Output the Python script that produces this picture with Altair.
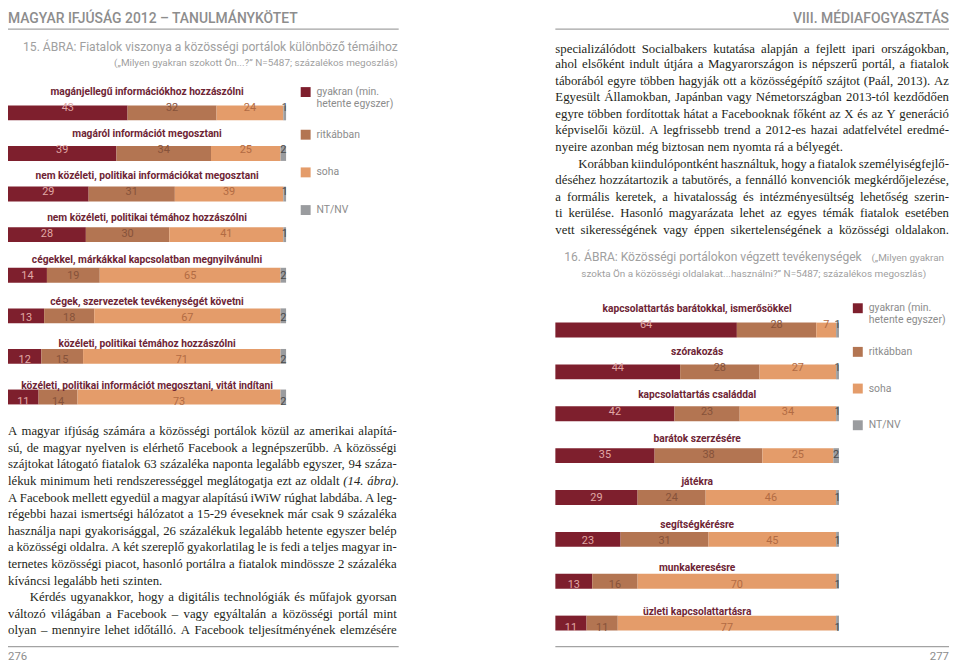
import unicodedata
import numpy as np
import altair as alt
import pandas as pd

# ---------------- data ----------------
segments = ["gyakran", "ritkábban", "soha", "NT/NV"]
legend_labels = [["gyakran (min.", "hetente egyszer)"], ["ritkábban"], ["soha"], ["NT/NV"]]

fig15_topics = [
    "magánjellegű információkhoz hozzászólni",
    "magáról információt megosztani",
    "nem közéleti, politikai információkat megosztani",
    "nem közéleti, politikai témához hozzászólni",
    "cégekkel, márkákkal kapcsolatban megnyilvánulni",
    "cégek, szervezetek tevékenységét követni",
    "közéleti, politikai témához hozzászólni",
    "közéleti, politikai információt megosztani, vitát indítani",
]
fig15_gyakran = [43, 39, 29, 28, 14, 13, 12, 11]
fig15_ritkabban = [32, 34, 31, 30, 19, 18, 15, 14]
fig15_soha = [24, 25, 39, 41, 65, 67, 71, 73]
fig15_ntnv = [1, 2, 1, 1, 2, 2, 2, 2]

fig16_topics = [
    "kapcsolattartás barátokkal, ismerősökkel",
    "szórakozás",
    "kapcsolattartás családdal",
    "barátok szerzésére",
    "játékra",
    "segítségkérésre",
    "munkakeresésre",
    "üzleti kapcsolattartásra",
]
fig16_gyakran = [64, 44, 42, 35, 29, 23, 13, 11]
fig16_ritkabban = [28, 28, 23, 38, 24, 31, 16, 11]
fig16_soha = [7, 27, 34, 25, 46, 45, 70, 77]
fig16_ntnv = [1, 1, 1, 2, 1, 1, 1, 1]

header_left = "MAGYAR IFJÚSÁG 2012 – TANULMÁNYKÖTET"
header_right = "VIII. MÉDIAFOGYASZTÁS"
fig15_title = "15. ÁBRA: Fiatalok viszonya a közösségi portálok különböző témáihoz"
fig15_subtitle = "(„Milyen gyakran szokott Ön...?” N=5487; százalékos megoszlás)"
fig16_title = "16. ÁBRA: Közösségi portálokon végzett tevékenységek"
fig16_sub1 = "(„Milyen gyakran"
fig16_sub2 = "szokta Ön a közösségi oldalakat...használni?” N=5487; százalékos megoszlás)"
page_left = "276"
page_right = "277"

left_par1 = [
    "A magyar ifjúság számára a közösségi portálok közül az amerikai alapítá-",
    "sú, de magyar nyelven is elérhető Facebook a legnépszerűbb. A közösségi",
    "szájtokat látogató fiatalok 63 százaléka naponta legalább egyszer, 94 száza-",
    "lékuk minimum heti rendszerességgel meglátogatja ezt az oldalt (14. ábra).",
    "A Facebook mellett egyedül a magyar alapítású iWiW rúghat labdába. A leg-",
    "régebbi hazai ismertségi hálózatot a 15-29 éveseknek már csak 9 százaléka",
    "használja napi gyakorisággal, 26 százalékuk legalább hetente egyszer belép",
    "a közösségi oldalra. A két szereplő gyakorlatilag le is fedi a teljes magyar in-",
    "ternetes közösségi piacot, hasonló portálra a fiatalok mindössze 2 százaléka",
    "kíváncsi legalább heti szinten.",
]
left_par2 = [
    "Kérdés ugyanakkor, hogy a digitális technológiák és műfajok gyorsan",
    "változó világában a Facebook – vagy egyáltalán a közösségi portál mint",
    "olyan – mennyire lehet időtálló. A Facebook teljesítményének elemzésére",
]
right_par1 = [
    "specializálódott Socialbakers kutatása alapján a fejlett ipari országokban,",
    "ahol elsőként indult útjára a Magyarországon is népszerű portál, a fiatalok",
    "táborából egyre többen hagyják ott a közösségépítő szájtot (Paál, 2013). Az",
    "Egyesült Államokban, Japánban vagy Németországban 2013-tól kezdődően",
    "egyre többen fordítottak hátat a Facebooknak főként az X és az Y generáció",
    "képviselői közül. A legfrissebb trend a 2012-es hazai adatfelvétel eredmé-",
    "nyeire azonban még biztosan nem nyomta rá a bélyegét.",
]
right_par2 = [
    "Korábban kiindulópontként használtuk, hogy a fiatalok személyiségfejlő-",
    "déséhez hozzátartozik a tabutörés, a fennálló konvenciók megkérdőjelezése,",
    "a formális keretek, a hivatalosság és intézményesültség lehetőség szerin-",
    "ti kerülése. Hasonló magyarázata lehet az egyes témák fiatalok esetében",
    "vett sikerességének vagy éppen sikertelenségének a közösségi oldalakon.",
]
italic_words = {"(14.", "ábra)."}

# ---------------- styles / layout ----------------
W, H = 952, 656
SANS = "Roboto"
SERIF = "Liberation Serif"
BAR = {"gyakran": "#7e1f2d", "ritkábban": "#b37552", "soha": "#e49c6a", "NT/NV": "#9a9c9f"}
INK = {"gyakran": "#e0a9a6", "ritkábban": "#86523a", "soha": "#b26b43", "NT/NV": "#4a4a4a"}
LABEL = "#6e2535"
BODY = "#231f20"


def X(v):
    return float(np.interp(v, [3, 402, 957], [0, 394, 949]))


def Y(v):
    return float(np.interp(v, [9, 22, 60, 640, 671], [8.0, 18.5, 52, 632, 656]))


TIMES = dict(zip("abcdefghijklmnopqrstuvwxyz",
                 [444, 500, 444, 500, 444, 333, 500, 500, 278, 278, 500, 278, 778,
                  500, 500, 500, 500, 333, 389, 278, 500, 500, 722, 500, 500, 444]))
TIMES.update(dict(zip("ABCDEFGHIJKLMNOPQRSTUVWXYZ",
                      [722, 667, 667, 722, 611, 556, 722, 722, 333, 389, 722, 611, 889,
                       722, 722, 556, 722, 667, 556, 611, 722, 722, 944, 722, 722, 611])))
TIMES.update({c: 500 for c in "0123456789"})
TIMES.update({",": 250, ".": 250, "-": 333, "(": 333, ")": 333, "–": 500, ":": 278, ";": 278})


def cw(ch):
    base = unicodedata.normalize("NFD", ch)[0]
    return TIMES.get(base, 500)


def word_w(w, fs):
    return sum(cw(c) for c in w) * fs / 1000.0


COL_W = 397.0
justified_lines = left_par1[:-1] + left_par2 + right_par1[:-1] + right_par2
fs_body = 13.0
for ln in justified_lines:
    words = ln.split(" ")
    nat = sum(word_w(w, 1.0) for w in words) + (len(words) - 1) * 0.2
    fs_body = min(fs_body, (COL_W - 4) / nat * 0.998)


def layout_par(lines, x_left, y0, step, indent, last_justified):
    rows = []
    xl_c0 = X(x_left)
    xr_c = X(x_left + COL_W)
    for li, line in enumerate(lines):
        y = y0 + li * step
        xl = xl_c0 + (indent if li == 0 else 0)
        words = line.split(" ")
        widths = [word_w(w, fs_body) for w in words]
        justify = (li < len(lines) - 1) or last_justified
        if justify and len(words) > 1:
            gap = (xr_c - xl - sum(widths)) / (len(words) - 1)
        else:
            gap = 0.25 * fs_body
        x = xl
        for w, wd in zip(words, widths):
            rows.append({"x": x, "y": Y(y), "t": w, "it": w in italic_words})
            x += wd + gap
    return rows


body_rows = []
body_rows += layout_par(left_par1, 3, 432, 16.75, 0, False)
body_rows += layout_par(left_par2, 3, 432 + 10 * 16.75, 16.75, 22, True)
body_rows += layout_par(right_par1, 560, 45, 16.73, 0, False)
body_rows += layout_par(right_par2, 560, 45 + 7 * 16.73, 16.73, 23, True)
body_df = pd.DataFrame(body_rows)


def text_layer(rows, **props):
    df = pd.DataFrame(rows)
    return alt.Chart(df).mark_text(baseline="middle", **props).encode(
        x=alt.X("x:Q", scale=None, axis=None),
        y=alt.Y("y:Q", scale=None, axis=None),
        text="t:N",
    )


def hrule(x0, x1, y):
    return alt.Chart(pd.DataFrame({"k": [0]})).mark_rule(color="#a3a3a3", strokeWidth=1.4).encode(
        x=alt.value(X(x0)), x2=alt.value(X(x1)), y=alt.value(Y(y)))


def bar_panel(topics, series, x0, x1, yc_first, yc_last):
    rows = []
    for i, t in enumerate(topics):
        s0 = 0
        for seg, vals in zip(segments, series):
            v = vals[i]
            rows.append(dict(topic=t, idx=i, seg=seg, start=s0, end=s0 + v, mid=s0 + v / 2,
                             value=v, fill=BAR[seg], ink=INK[seg]))
            s0 += v
    df = pd.DataFrame(rows)
    xs = alt.Scale(domain=[0, 100], range=[X(x0), X(x1)], nice=False, zero=False)
    ys = alt.Scale(domain=[0, len(topics) - 1], range=[Y(yc_first), Y(yc_last)], nice=False, zero=False)
    base = alt.Chart(df)
    bars = base.mark_bar(orient="horizontal", size=15).encode(
        x=alt.X("start:Q", scale=xs, axis=None), x2="end:Q",
        y=alt.Y("idx:Q", scale=ys, axis=None),
        color=alt.Color("fill:N", scale=None))
    nums = base.mark_text(font=SANS, fontSize=11, baseline="middle").encode(
        x=alt.X("mid:Q", scale=xs, axis=None),
        y=alt.Y("idx:Q", scale=ys, axis=None),
        text="value:Q", color=alt.Color("ink:N", scale=None))
    tdf = pd.DataFrame({"topic": topics, "idx": list(range(len(topics))), "c": [50] * len(topics)})
    labels = alt.Chart(tdf).mark_text(font=SANS, fontSize=10.3, fontWeight="bold", color=LABEL,
                                      baseline="middle", dy=-16.5).encode(
        x=alt.X("c:Q", scale=xs, axis=None),
        y=alt.Y("idx:Q", scale=ys, axis=None),
        text="topic:N")
    return [bars, nums, labels]


def legend(x_sq, ys):
    sq = pd.DataFrame({"x": [X(x_sq + 5)] * 4, "y": [Y(v) for v in ys], "fill": [BAR[s] for s in segments]})
    squares = alt.Chart(sq).mark_square(size=100, opacity=1).encode(
        x=alt.X("x:Q", scale=None, axis=None), y=alt.Y("y:Q", scale=None, axis=None),
        color=alt.Color("fill:N", scale=None))
    rows = []
    for lab, yv in zip(legend_labels, ys):
        for j, part in enumerate(lab):
            rows.append({"x": X(x_sq + 16), "y": Y(yv + j * 12), "t": part})
    return [squares, text_layer(rows, font=SANS, fontSize=10.5, color="#8c8c8c", align="left")]


layers = []
layers.append(hrule(3, 402, 22))
layers.append(hrule(560, 957, 22))
layers.append(hrule(3, 402, 652))
layers.append(hrule(560, 957, 652))
layers.append(text_layer([{"x": X(3), "y": Y(9), "t": header_left}],
                         font=SANS, fontSize=14, fontWeight=500, color="#8d8d8d", align="left"))
layers.append(text_layer([{"x": X(957), "y": Y(9), "t": header_right}],
                         font=SANS, fontSize=14, fontWeight=500, color="#8d8d8d", align="right"))
layers.append(text_layer([{"x": X(3), "y": Y(665), "t": page_left}],
                         font=SANS, fontSize=11.5, color="#8d8d8d", align="left"))
layers.append(text_layer([{"x": X(957), "y": Y(665), "t": page_right}],
                         font=SANS, fontSize=11.5, color="#8d8d8d", align="right"))
layers.append(text_layer([{"x": X(401), "y": Y(43), "t": fig15_title}],
                         font=SANS, fontSize=12.2, color="#a0a0a0", align="right"))
layers.append(text_layer([{"x": X(401), "y": Y(61), "t": fig15_subtitle}],
                         font=SANS, fontSize=10, color="#a0a0a0", align="right"))
layers.append(text_layer([{"x": X(569), "y": Y(256), "t": fig16_title}],
                         font=SANS, fontSize=12.2, color="#a0a0a0", align="left"))
layers.append(text_layer([{"x": X(952), "y": Y(257), "t": fig16_sub1}],
                         font=SANS, fontSize=10, color="#a0a0a0", align="right"))
layers.append(text_layer([{"x": X(760), "y": Y(273), "t": fig16_sub2}],
                         font=SANS, fontSize=10, color="#a0a0a0", align="center"))

layers += bar_panel(fig15_topics, [fig15_gyakran, fig15_ritkabban, fig15_soha, fig15_ntnv],
                    2.5, 287, 106, 402.5)
layers += bar_panel(fig16_topics, [fig16_gyakran, fig16_ritkabban, fig16_soha, fig16_ntnv],
                    560, 846, 325, 630.5)
layers += legend(302, [90, 133, 171, 209])
layers += legend(860, [308, 352, 389, 426])

roman = body_df[~body_df["it"]].to_dict("records")
ital = body_df[body_df["it"]].to_dict("records")
layers.append(text_layer(roman, font=SERIF, fontSize=fs_body, color=BODY, align="left"))
layers.append(text_layer(ital, font=SERIF, fontSize=fs_body, fontStyle="italic", color=BODY, align="left"))

chart = alt.layer(*layers).properties(
    width=W, height=H, padding=0,
    autosize=alt.AutoSizeParams(type="none"), background="white",
).resolve_scale(x="independent", y="independent").configure_view(stroke=None)

chart.save("out.html", embed_options={"renderer": "svg", "actions": False})
